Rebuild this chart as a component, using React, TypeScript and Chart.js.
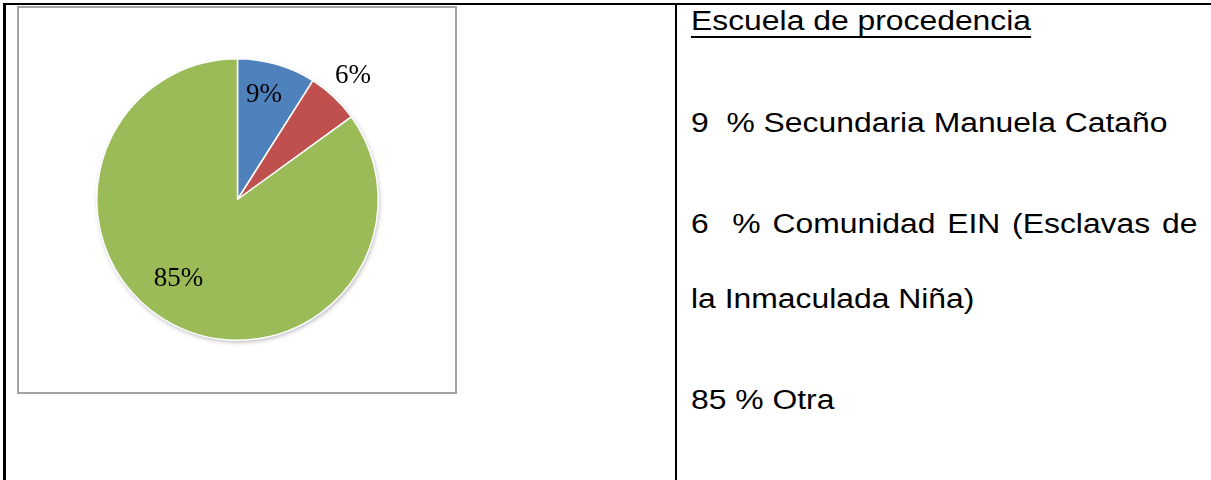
import React, { useEffect, useRef } from "react";
import { Chart, registerables } from "chart.js";

Chart.register(...registerables);

const title = "Escuela de procedencia";
const categories = ["Secundaria Manuela Cataño", "Comunidad EIN (Esclavas de la Inmaculada Niña)", "Otra"];
const values = [9, 6, 85];
const sliceLabels = ["9%", "6%", "85%"];
const colors = ["#4F81BD", "#C0504D", "#9BBB59"];
// right-hand text lines as they appear (with the wrap)
const textLines = [
  "9  % Secundaria Manuela Cataño",
  "6  % Comunidad EIN (Esclavas de",
  "la Inmaculada Niña)",
  "85 % Otra",
];
const textBaselines = [132.7, 234, 309, 410];
const textWordSpacing = [0, 2.5, 0, 0];

// label placement (style): radial factor and angle offset in degrees
const labelRadius = [0.77, 1.2, 0.7];
const labelAngleOffset = [-2, 0, 9.7];

const shadowPlugin = {
  id: "pieShadow",
  beforeDatasetsDraw(chart: any) {
    const meta = chart.getDatasetMeta(0);
    const arc = meta.data[0];
    if (!arc) return;
    const { x, y, outerRadius } = arc.getProps(["x", "y", "outerRadius"], true);
    const ctx = chart.ctx;
    ctx.save();
    ctx.shadowColor = "rgba(0,0,0,0.35)";
    ctx.shadowBlur = 5;
    ctx.shadowOffsetX = 1;
    ctx.shadowOffsetY = 2;
    ctx.beginPath();
    ctx.arc(x, y, outerRadius - 0.5, 0, Math.PI * 2);
    ctx.fillStyle = "#ffffff";
    ctx.fill();
    ctx.restore();
  },
};

const labelPlugin = {
  id: "sliceLabels",
  afterDatasetsDraw(chart: any) {
    const meta = chart.getDatasetMeta(0);
    const ctx = chart.ctx;
    ctx.save();
    ctx.font = '27px "Liberation Serif", "Times New Roman", serif';
    ctx.fillStyle = "#000000";
    ctx.textAlign = "center";
    ctx.textBaseline = "middle";
    meta.data.forEach((arc: any, i: number) => {
      const { x, y, startAngle, endAngle, outerRadius } = arc.getProps(
        ["x", "y", "startAngle", "endAngle", "outerRadius"],
        true
      );
      const mid = (startAngle + endAngle) / 2 + (labelAngleOffset[i] * Math.PI) / 180;
      const r = outerRadius * labelRadius[i];
      ctx.fillText(sliceLabels[i], x + Math.cos(mid) * r, y + Math.sin(mid) * r);
    });
    ctx.restore();
  },
};

function PieChart() {
  const ref = useRef<HTMLCanvasElement | null>(null);
  useEffect(() => {
    if (!ref.current) return;
    const chart = new Chart(ref.current, {
      type: "pie",
      data: {
        labels: categories,
        datasets: [
          {
            data: values,
            backgroundColor: colors,
            borderColor: "#ffffff",
            borderWidth: 1.5,
          },
        ],
      },
      options: {
        animation: false,
        responsive: false,
        maintainAspectRatio: false,
        layout: { padding: { left: 77, right: 76, top: 50, bottom: 51 } },
        plugins: {
          legend: { display: false },
          tooltip: { enabled: false },
          title: { display: false },
        },
      },
      plugins: [shadowPlugin, labelPlugin],
    } as any);
    return () => chart.destroy();
  }, []);
  return <canvas ref={ref} width={436} height={384} style={{ display: "block", width: 436, height: 384 }} />;
}

const textStyle: React.CSSProperties = {
  position: "absolute",
  left: 691,
  fontFamily: '"Liberation Sans", Arial, sans-serif',
  fontSize: 27,
  lineHeight: "27px",
  whiteSpace: "pre",
  color: "#000",
  transform: "scaleX(1.18)",
  transformOrigin: "left top",
};

export default function App() {
  return (
    <div
      style={{
        position: "fixed",
        left: 0,
        top: 0,
        width: 1211,
        height: 480,
        background: "#ffffff",
        overflow: "hidden",
      }}
    >
      {/* table lines */}
      <div style={{ position: "absolute", left: 3, top: 3, width: 1208, height: 2, background: "#000" }} />
      <div style={{ position: "absolute", left: 3, top: 3, width: 3, height: 477, background: "#000" }} />
      <div style={{ position: "absolute", left: 675, top: 3, width: 2, height: 477, background: "#000" }} />

      {/* chart box */}
      <div
        style={{
          position: "absolute",
          left: 17,
          top: 6,
          width: 436,
          height: 384,
          border: "2px solid #a3a3a3",
          background: "#fff",
        }}
      >
        <PieChart />
      </div>

      {/* right text */}
      <div
        style={{
          ...textStyle,
          top: 31 - 22.9,
          textDecoration: "underline",
          textDecorationThickness: "2px",
          textUnderlineOffset: "6px",
        }}
      >
        {title}
      </div>
      {textLines.map((t, i) => (
        <div key={i} style={{ ...textStyle, top: textBaselines[i] - 22.9, wordSpacing: textWordSpacing[i] }}>
          {t}
        </div>
      ))}
    </div>
  );
}
